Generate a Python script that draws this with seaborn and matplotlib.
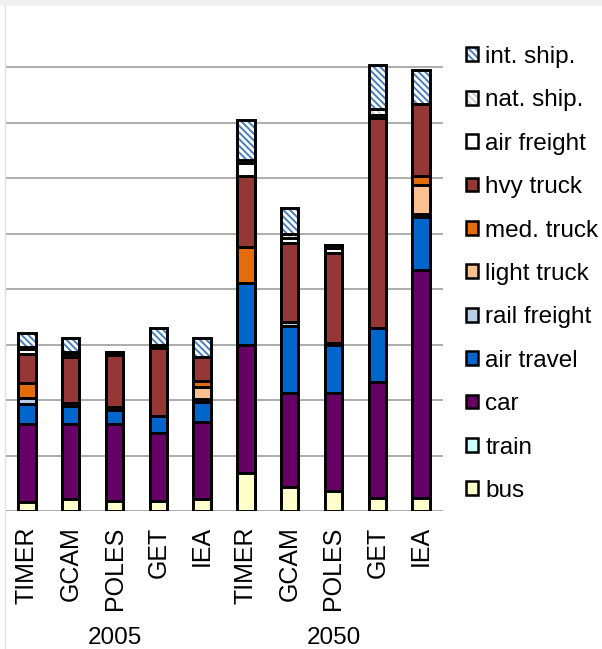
import matplotlib
matplotlib.use("Agg")
import matplotlib.pyplot as plt
import matplotlib.transforms as mtransforms
from matplotlib.patches import Patch, Rectangle
from matplotlib.lines import Line2D
import numpy as np
import pandas as pd
import seaborn as sns

# ---- data -------------------------------------------------------------
models = ["TIMER", "GCAM", "POLES", "GET", "IEA"]
years = ["2005", "2050"]

# stacking order, bottom to top
layers = ["bus", "train", "car", "air travel", "rail freight", "light truck",
          "med. truck", "hvy truck", "air freight", "nat. ship.", "int. ship."]

# one list per mode: TIMER, GCAM, POLES, GET, IEA for 2005, then 2050
bus          = [0.17, 0.21, 0.18, 0.18, 0.21, 0.68, 0.44, 0.36, 0.23, 0.23]
train        = [0.00, 0.00, 0.00, 0.00, 0.00, 0.00, 0.00, 0.00, 0.00, 0.00]
car          = [1.39, 1.36, 1.38, 1.22, 1.40, 2.31, 1.69, 1.76, 2.10, 4.11]
air_travel   = [0.37, 0.32, 0.26, 0.31, 0.36, 1.11, 1.20, 0.87, 0.96, 0.96]
rail_freight = [0.10, 0.05, 0.05, 0.00, 0.05, 0.00, 0.08, 0.04, 0.00, 0.06]
light_truck  = [0.00, 0.00, 0.00, 0.00, 0.22, 0.00, 0.00, 0.00, 0.00, 0.51]
med_truck    = [0.28, 0.00, 0.00, 0.00, 0.11, 0.66, 0.00, 0.00, 0.00, 0.16]
hvy_truck    = [0.51, 0.83, 0.94, 1.23, 0.42, 1.27, 1.42, 1.61, 3.79, 1.31]
air_freight  = [0.09, 0.05, 0.03, 0.04, 0.00, 0.24, 0.08, 0.10, 0.06, 0.00]
nat_ship     = [0.04, 0.04, 0.03, 0.02, 0.00, 0.06, 0.09, 0.06, 0.11, 0.00]
int_ship     = [0.26, 0.26, 0.00, 0.29, 0.35, 0.71, 0.46, 0.00, 0.79, 0.60]

series = [bus, train, car, air_travel, rail_freight, light_truck,
          med_truck, hvy_truck, air_freight, nat_ship, int_ship]

colors = {
    "bus": "#FFFFCC", "train": "#CCFFFF", "car": "#660066",
    "air travel": "#0066CC", "rail freight": "#B9CDE5",
    "light truck": "#FAC090", "med. truck": "#E46C0A",
    "hvy truck": "#953735", "air freight": "#FFFFFF",
    "nat. ship.": "#FFFFFF", "int. ship.": "#FFFFFF",
}
hatches = {"int. ship.": ("\\\\\\\\\\", "#4A7EBB"),
           "nat. ship.": ("\\\\\\\\\\", "#D0D0D0")}

keys = [f"{y} {m}" for y in years for m in models]
df = pd.DataFrame({"key": keys})
for name, vals in zip(layers, series):
    df[name] = vals
# cumulative tops for each layer
cum = df[layers].cumsum(axis=1)
for name in layers:
    df["top_" + name] = cum[name]

# ---- figure -----------------------------------------------------------
sns.set_theme(style="white")
plt.rcParams["font.family"] = ["Liberation Sans", "DejaVu Sans"]
plt.rcParams["text.color"] = "black"
plt.rcParams["xtick.color"] = "black"
plt.rcParams["hatch.linewidth"] = 1.4

W, H, DPI = 602, 649, 100
fig = plt.figure(figsize=(W / DPI, H / DPI), dpi=DPI)
ax = fig.add_axes([5 / W, (H - 511) / H, (443 - 5) / W, (511 - 11.5) / H])

edge_lw = 2.1
bar_w = 0.40

# draw from the topmost layer downwards, each bar spanning 0..cumulative top
for name in reversed(layers):
    col = "top_" + name
    if name in hatches:
        hatch, hcol = hatches[name]
        sns.barplot(data=df, x="key", y=col, order=keys, color=colors[name],
                    saturation=1, width=bar_w, errorbar=None, ax=ax,
                    edgecolor=hcol, linewidth=0)
        for p in ax.containers[-1]:
            p.set_hatch(hatch)
            p.set_edgecolor(hcol)
            p.set_linewidth(0)
        sns.barplot(data=df, x="key", y=col, order=keys, fill=False,
                    width=bar_w, errorbar=None, ax=ax,
                    edgecolor="black", linewidth=edge_lw)
    else:
        sns.barplot(data=df, x="key", y=col, order=keys, color=colors[name],
                    saturation=1, width=bar_w, errorbar=None, ax=ax,
                    edgecolor="black", linewidth=edge_lw)

ax.set_xlim(-0.5, len(keys) - 0.5)
ax.set_ylim(0, 9)
ax.set_yticks(np.arange(0, 9))
ax.set_yticklabels([])
ax.yaxis.grid(True, color="#A6A6A6", linewidth=1.3)
ax.set_axisbelow(True)
for s in ax.spines.values():
    s.set_visible(False)
ax.set_xlabel("")
ax.set_ylabel("")
ax.set_xticks(range(len(keys)))
ax.set_xticklabels([m for y in years for m in models], rotation=90,
                   fontsize=18, color="black")
ax.tick_params(axis="x", length=0, pad=11)
ax.tick_params(axis="y", length=0)

# year group labels
trans = mtransforms.blended_transform_factory(ax.transData, fig.transFigure)
for i, y in enumerate(years):
    ax.text(i * len(models) + (len(models) - 1) / 2, (H - 638) / H, y,
            transform=trans, ha="center", va="center", fontsize=17.5,
            color="black")

# legend, top entry first
handles = []
for name in reversed(layers):
    if name in hatches:
        hatch, hcol = hatches[name]
        h = (Patch(facecolor="white", edgecolor=hcol, hatch=hatch, linewidth=0),
             Patch(facecolor="none", edgecolor="black", linewidth=1.8))
    else:
        h = Patch(facecolor=colors[name], edgecolor="black", linewidth=1.8)
    handles.append(h)
leg = fig.legend(handles, list(reversed(layers)), loc="upper left",
                 bbox_to_anchor=(466 / W, 1 - 46 / H), frameon=False,
                 fontsize=17.5, handlelength=0.5, handleheight=0.5,
                 handletextpad=0.3, labelspacing=0.88, borderpad=0,
                 borderaxespad=0)
for t in leg.get_texts():
    t.set_color("black")

# page frame details
fig.patches.append(Rectangle((0, 1 - 6 / H), 1, 6 / H, transform=fig.transFigure,
                             facecolor="#F0F0F0", edgecolor="none", zorder=0))
fig.lines.append(Line2D([5 / W, 5 / W], [0, 1 - 6 / H], transform=fig.transFigure,
                        color="#E0E0E0", linewidth=1))

fig.savefig("out.png", dpi=DPI)
